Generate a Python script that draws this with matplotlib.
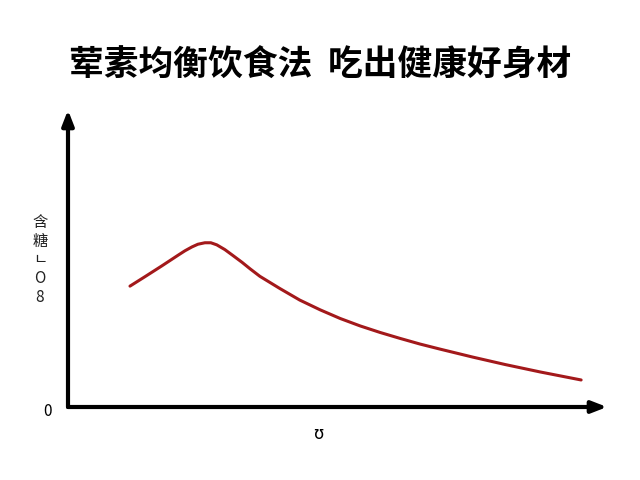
import matplotlib.pyplot as plt

plt.rcParams['font.family'] = ['Noto Sans CJK SC', 'DejaVu Sans']

title = "荤素均衡饮食法  吃出健康好身材"
y_label = "含\n糖\nㄴ\nO\n8"
x_label = "ʊ"

# curve (axis units 0-10)
xs = [1.15, 1.43, 1.74, 2.05, 2.17, 2.30, 2.41, 2.54, 2.65, 2.76, 2.91,
      3.06, 3.23, 3.38, 3.56, 3.93, 4.30, 4.68, 5.05, 5.42, 5.79, 6.16,
      6.53, 6.90, 7.51, 8.11, 8.76, 9.52]
ys = [4.07, 4.39, 4.75, 5.12, 5.26, 5.39, 5.48, 5.53, 5.53, 5.46, 5.30,
      5.10, 4.87, 4.65, 4.40, 3.99, 3.60, 3.27, 2.98, 2.73, 2.51, 2.31,
      2.12, 1.95, 1.68, 1.43, 1.18, 0.91]

fig = plt.figure(figsize=(6.4, 4.8), dpi=100)
ax = fig.add_axes([68 / 640, 73 / 480, 539 / 640, 297 / 480])
ax.set_xlim(0, 10)
ax.set_ylim(0, 10)
ax.axis('off')

ax.plot(xs, ys, color='#a3191b', lw=2.2, solid_capstyle='round', solid_joinstyle='round')

# axes drawn as arrows
arrow = dict(arrowstyle='-|>,head_length=0.9,head_width=0.35', color='black', lw=3,
             shrinkA=0, shrinkB=0)
ax.annotate('', xy=(1.0, 0), xytext=(0, 0), xycoords='axes fraction', arrowprops=arrow)
ax.annotate('', xy=(0, 1.0), xytext=(0, 0), xycoords='axes fraction', arrowprops=arrow)

fig.text(0.5, 1 - 65 / 480, title, ha='center', va='center', fontsize=25, fontweight='heavy')
fig.text(40 / 640, 1 - 260 / 480, y_label, ha='center', va='center', fontsize=11,
         linespacing=1.15, color='#222222')
fig.text(47 / 640, 1 - 411 / 480, "0", ha='center', va='center', fontsize=11)
fig.text(318 / 640, 1 - 434 / 480, x_label, ha='center', va='center', fontsize=12,
         family='DejaVu Sans')

fig.savefig('out.png', dpi=100, facecolor='white')
